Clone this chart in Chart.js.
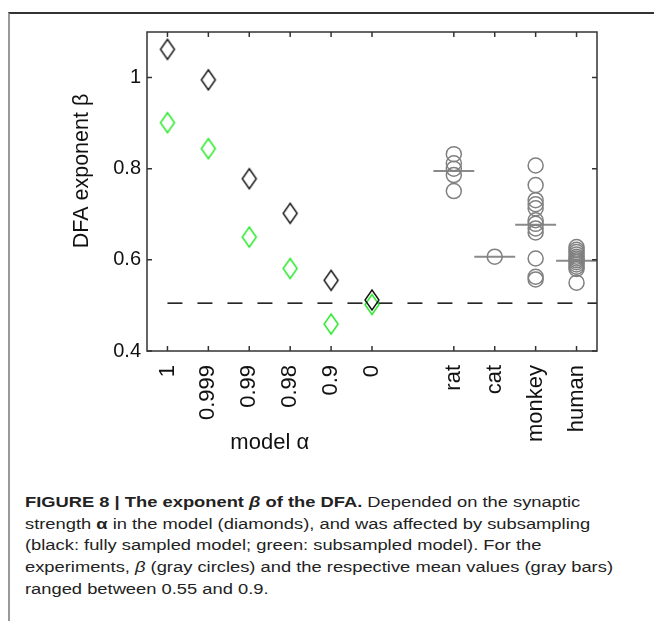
<!DOCTYPE html>
<html>
<head>
<meta charset="utf-8">
<script src="https://cdn.jsdelivr.net/npm/chart.js@4.4.1/dist/chart.umd.min.js"></script>
<style>
  body { margin: 0; background: #fff; }
  #frame { position: absolute; left: 8px; top: 12px; width: 646px; height: 609px;
           border-top: 2px solid #333; border-left: 2px solid #999; }
  #wrap { position: absolute; left: 0; top: 0; width: 654px; height: 475px; }
  #cap { position: absolute; left: 25px; top: 491px; font-family: "Liberation Sans", Arial, sans-serif;
         font-size: 15.5px; line-height: 21.7px; color: #222; white-space: nowrap; transform-origin: 0 0; }
  #cap span { display: block; }
</style>
</head>
<body>
<div id="frame"></div>
<div id="wrap"><canvas id="dfaChart" width="654" height="475"></canvas></div>
<div id="cap"><span><b>FIGURE 8 | The exponent <i>β</i> of the DFA.</b> Depended on the synaptic</span><span>strength <b>α</b> in the model (diamonds), and was affected by subsampling</span><span>(black: fully sampled model; green: subsampled model). For the</span><span id="capRef">experiments, <i>β</i> (gray circles) and the respective mean values (gray bars)</span><span>ranged between 0.55 and 0.9.</span></div>
<script>
// modell oldal: alpha ertekek es a DFA exponens
const modelAlpha = ['1', '0.999', '0.99', '0.98', '0.9', '0'];
const modelPos = [1, 2, 3, 4, 5, 6];
const betaFull = [1.062, 0.995, 0.778, 0.702, 0.555, 0.512]; // fekete
const betaSub = [0.901, 0.844, 0.650, 0.581, 0.459, 0.502];  // zold

// kiserletek
const species = ['rat', 'cat', 'monkey', 'human'];
const speciesPos = [8, 9, 10, 11];
const betaRat = [0.832, 0.812, 0.800, 0.786, 0.751];
const betaCat = [0.607];
const betaMonkey = [0.807, 0.764, 0.731, 0.722, 0.713, 0.687, 0.679, 0.669, 0.660, 0.603, 0.563, 0.557];
const betaHuman = [0.628, 0.622, 0.617, 0.612, 0.607, 0.603, 0.599, 0.595, 0.590, 0.585, 0.580, 0.550];
const meanBeta = [0.795, 0.607, 0.677, 0.598];

const dashLevel = 0.505;
const yTicks = [0.4, 0.6, 0.8, 1];
const yTickLabels = ['0.4', '0.6', '0.8', '1'];

const FONT = "'Liberation Sans', Arial, sans-serif";

// felirat: keskenyitett betu, a 4. sor kb. 588 px szeles
const cap = document.getElementById('cap');
const capW = document.getElementById('capRef').getBoundingClientRect().width;
cap.style.transform = 'scaleX(' + (588 / capW) + ')';

function diamond(color) {
    const c = document.createElement('canvas');
    c.width = 18; c.height = 24;
    const g = c.getContext('2d');
    g.strokeStyle = color;
    g.lineWidth = 1.4;
    g.beginPath();
    g.moveTo(9, 2); g.lineTo(16, 12); g.lineTo(9, 22); g.lineTo(2, 12); g.closePath();
    g.stroke();
    return c;
}

const xLabelMap = {};
modelPos.forEach((p, i) => xLabelMap[p] = modelAlpha[i]);
speciesPos.forEach((p, i) => xLabelMap[p] = species[i]);

const expValues = [betaRat, betaCat, betaMonkey, betaHuman];
const circles = [];
expValues.forEach((arr, i) => arr.forEach(v => circles.push({ x: speciesPos[i], y: v })));

const meanSets = meanBeta.map((m, i) => ({
    type: 'line',
    data: [{ x: speciesPos[i] - 0.5, y: m }, { x: speciesPos[i] + 0.5, y: m }],
    borderColor: '#8a8a8a',
    borderWidth: 2,
    pointRadius: 0
}));

// keret, befele allo osztasok, tengelyfeliratok
const framePlugin = {
    id: 'frame',
    afterDraw(chart) {
        const { ctx, chartArea: a, scales } = chart;
        ctx.save();
        ctx.strokeStyle = '#333';
        ctx.lineWidth = 1.5;
        ctx.strokeRect(a.left, a.top, a.right - a.left, a.bottom - a.top);
        ctx.beginPath();
        Object.keys(xLabelMap).forEach(p => {
            const x = scales.x.getPixelForValue(Number(p));
            ctx.moveTo(x, a.bottom); ctx.lineTo(x, a.bottom - 5);
            ctx.moveTo(x, a.top); ctx.lineTo(x, a.top + 5);
        });
        yTicks.forEach(v => {
            const y = scales.y.getPixelForValue(v);
            ctx.moveTo(a.left, y); ctx.lineTo(a.left + 5, y);
            ctx.moveTo(a.right, y); ctx.lineTo(a.right - 5, y);
        });
        ctx.stroke();

        ctx.fillStyle = '#111';
        ctx.textAlign = 'center';
        ctx.textBaseline = 'alphabetic';
        ctx.font = '22px ' + FONT;
        ctx.fillText('model α', scales.x.getPixelForValue(3.5), 449);

        ctx.font = '21.5px ' + FONT;
        ctx.translate(88, scales.y.getPixelForValue(0.795));
        ctx.rotate(-Math.PI / 2);
        ctx.fillText('DFA exponent β', 0, 0);
        ctx.restore();
    }
};

new Chart(document.getElementById('dfaChart'), {
    type: 'scatter',
    data: {
        datasets: [
            {
                data: modelPos.map((p, i) => ({ x: p, y: betaFull[i] })),
                pointStyle: diamond('#111'),
                pointRadius: 10
            },
            {
                data: modelPos.map((p, i) => ({ x: p, y: betaSub[i] })),
                pointStyle: diamond('#1ee81e'),
                pointRadius: 10
            },
            {
                data: circles,
                pointStyle: 'circle',
                pointRadius: 7.5,
                borderColor: '#808080',
                backgroundColor: 'rgba(0,0,0,0)',
                borderWidth: 1.5
            },
            ...meanSets,
            {
                type: 'line',
                data: [{ x: 1, y: dashLevel }, { x: 11.5, y: dashLevel }],
                borderColor: '#111',
                borderWidth: 1.5,
                borderDash: [15, 15],
                pointRadius: 0
            }
        ]
    },
    options: {
        responsive: false,
        animation: false,
        events: [],
        layout: { padding: { left: 0, right: 57, top: 32, bottom: 0 } },
        plugins: { legend: { display: false }, tooltip: { enabled: false } },
        scales: {
            x: {
                type: 'linear',
                min: 0.5,
                max: 11.5,
                afterBuildTicks: s => { s.ticks = Object.keys(xLabelMap).map(p => ({ value: Number(p) })); },
                afterFit: s => { s.height = 124; },
                grid: { display: false, drawTicks: false },
                border: { display: false },
                ticks: {
                    autoSkip: false,
                    minRotation: 90,
                    maxRotation: 90,
                    padding: 14,
                    color: '#111',
                    font: { family: FONT, size: 22 },
                    callback: v => xLabelMap[v]
                }
            },
            y: {
                min: 0.4,
                max: 1.1,
                afterBuildTicks: s => { s.ticks = yTicks.map(v => ({ value: v })); },
                afterFit: s => { s.width = 147; },
                grid: { display: false, drawTicks: false },
                border: { display: false },
                ticks: {
                    padding: 6,
                    color: '#111',
                    font: { family: FONT, size: 20 },
                    callback: v => yTickLabels[yTicks.indexOf(v)]
                }
            }
        }
    },
    plugins: [framePlugin]
});
</script>
</body>
</html>
